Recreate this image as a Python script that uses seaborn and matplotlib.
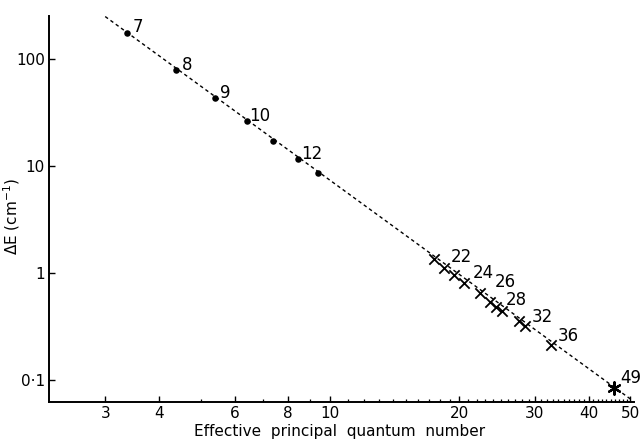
import numpy as np
import pandas as pd
import matplotlib
matplotlib.use("Agg")
import matplotlib.pyplot as plt
import matplotlib.ticker as mticker
import seaborn as sns

# datos
dot_n = [3.37, 4.38, 5.41, 6.40, 7.39, 8.41, 9.39]
dot_dE = [178, 80, 43.5, 26.7, 17.1, 11.6, 8.73]
dot_labels = ["7", "8", "9", "10", "", "12", ""]

cross_n = [17.48, 18.41, 19.43, 20.49, 22.33, 23.56, 24.29, 25.21, 27.56, 28.41, 32.66]
cross_dE = [1.34, 1.12, 0.958, 0.811, 0.646, 0.539, 0.484, 0.444, 0.358, 0.320, 0.211]
cross_labels = ["", "22", "", "24", "26", "", "28", "", "", "32", "36"]

star_n = [45.84]
star_dE = [0.0835]
star_labels = ["49"]

fit_n = [3.0, 50.7]
fit_dE = [252, 0.0636]

x_ticks = [3, 4, 6, 8, 10, 20, 30, 40, 50]
y_ticks = [0.1, 1, 10, 100]
y_ticklabels = ["0·1", "1", "10", "100"]

# desplazamientos de las etiquetas (pixeles)
dot_offsets = [(6, 1), (6, 0), (5, 0), (3, 0), (0, 0), (4, 0), (0, 0)]
cross_offsets = [(0, 0), (7, 6), (0, 0), (9, 5), (15, 6), (0, 0), (10, 2), (0, 0), (0, 0), (7, 4), (7, 4)]
star_offsets = [(6, 5)]

sns.set_style("ticks")
plt.rcParams['font.family'] = ['DejaVu Sans']
plt.rcParams['text.color'] = 'black'
plt.rcParams['axes.labelcolor'] = 'black'

fig = plt.figure(figsize=(6.41, 4.42), dpi=100)
ax = fig.add_axes([49 / 641, 40 / 442, 585 / 641, 386 / 442])

# linea de ajuste
sns.lineplot(x=fit_n, y=fit_dE, ax=ax, color="black", lw=1.0,
             linestyle=(0, (2.5, 2.2)), clip_on=False)

# puntos
sns.scatterplot(x=dot_n, y=dot_dE, ax=ax, color="black", marker="o", s=22,
                edgecolor="black", linewidth=0, zorder=3)
sns.scatterplot(x=cross_n, y=cross_dE, ax=ax, color="black", marker="x", s=55,
                linewidth=1.3, zorder=3)
sns.scatterplot(x=star_n, y=star_dE, ax=ax, color="black", marker=(6, 2, 0), s=80,
                linewidth=1.6, zorder=3, clip_on=False)

# etiquetas de los puntos
for xs, ys, labs, offs in [(dot_n, dot_dE, dot_labels, dot_offsets),
                           (cross_n, cross_dE, cross_labels, cross_offsets),
                           (star_n, star_dE, star_labels, star_offsets)]:
    for xv, yv, lab, off in zip(xs, ys, labs, offs):
        if lab:
            ax.annotate(lab, xy=(xv, yv), xytext=off, textcoords="offset pixels",
                        ha="left", va="baseline", fontsize=12, color="black")

ax.set_xscale("log")
ax.set_yscale("log")
ax.set_xlim(2.22, 51)
ax.set_ylim(0.062, 255)

ax.xaxis.set_major_locator(mticker.FixedLocator(x_ticks))
ax.xaxis.set_major_formatter(mticker.FixedFormatter([str(t) for t in x_ticks]))
ax.xaxis.set_minor_locator(mticker.FixedLocator([t for t in range(3, 51) if t not in x_ticks]))
ax.xaxis.set_minor_formatter(mticker.NullFormatter())
ax.yaxis.set_major_locator(mticker.FixedLocator(y_ticks))
ax.yaxis.set_major_formatter(mticker.FixedFormatter(y_ticklabels))
ax.yaxis.set_minor_locator(mticker.NullLocator())

ax.tick_params(axis="both", which="major", direction="in", length=4, width=1.0,
               labelsize=11, colors="black", pad=3)
ax.tick_params(axis="x", which="minor", direction="in", length=2.5, width=0.9, colors="black")

sns.despine(ax=ax)
for s in ["left", "bottom"]:
    ax.spines[s].set_linewidth(1.4)
    ax.spines[s].set_color("black")

ax.set_xlabel("Effective  principal  quantum  number", fontsize=11)
ax.set_ylabel("ΔE (cm$^{-1}$)", fontsize=11)
ax.xaxis.set_label_coords(0.497, -0.058)
ax.yaxis.set_label_coords(-0.046, 0.48)

fig.savefig("out.png", dpi=100)
